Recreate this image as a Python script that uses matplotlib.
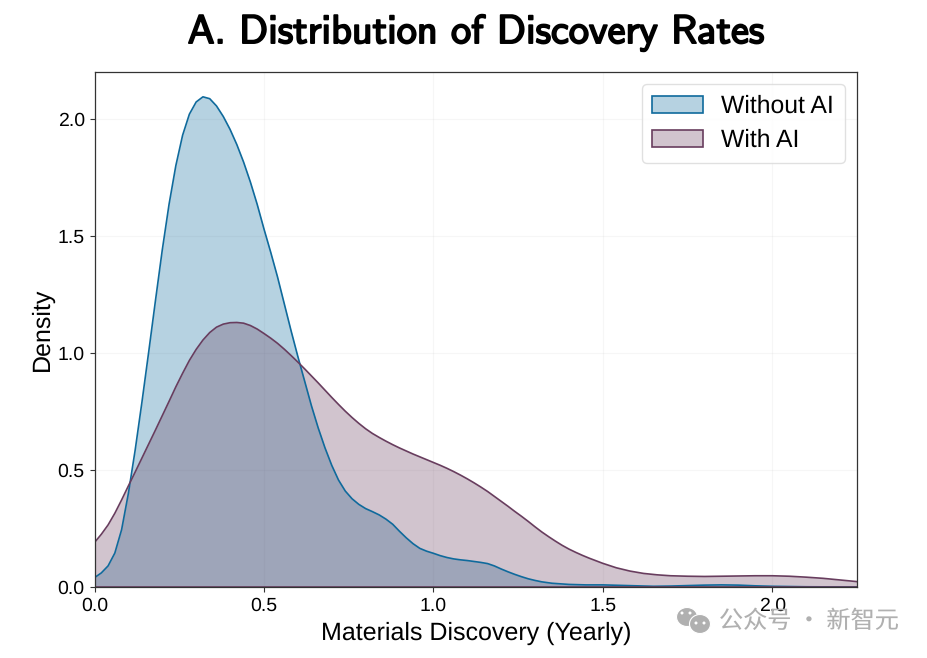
import matplotlib
matplotlib.use('Agg')
import matplotlib.pyplot as plt
import matplotlib.patheffects as pe
from matplotlib.patches import Ellipse
import numpy as np

plt.rcParams['font.family'] = ['Liberation Sans', 'DejaVu Sans']
plt.rcParams['text.hinting'] = 'none'

title = 'A. Distribution of Discovery Rates'
xlabel = 'Materials Discovery (Yearly)'
ylabel = 'Density'
labels = ['Without AI', 'With AI']
watermark = '公众号 · 新智元'
blue = '#0f6a9c'
purple = '#683d5e'

x_no_ai = [0.00, 0.02, 0.04, 0.06, 0.08, 0.10, 0.12, 0.14, 0.16, 0.18, 0.20, 0.22, 0.24, 0.26, 0.28, 0.30,
           0.32, 0.34, 0.36, 0.38, 0.40, 0.42, 0.44, 0.46, 0.48, 0.50, 0.52, 0.54, 0.56, 0.58, 0.60, 0.62,
           0.64, 0.66, 0.68, 0.70, 0.72, 0.74, 0.76, 0.78, 0.80, 0.82, 0.84, 0.86, 0.88, 0.90, 0.92, 0.94,
           0.96, 0.98, 1.00, 1.02, 1.04, 1.06, 1.08, 1.10, 1.12, 1.14, 1.16, 1.18, 1.20, 1.22, 1.24, 1.26,
           1.28, 1.30, 1.32, 1.35, 1.40, 1.45, 1.50, 1.55, 1.60, 1.65, 1.70, 1.75, 1.80, 1.85, 1.90, 1.95,
           2.00, 2.10, 2.25]
y_no_ai = [0.040, 0.060, 0.090, 0.145, 0.245, 0.400, 0.585, 0.790, 1.005, 1.225, 1.440, 1.635, 1.800, 1.930, 2.020, 2.072,
           2.094, 2.086, 2.055, 2.010, 1.955, 1.890, 1.815, 1.730, 1.635, 1.530, 1.430, 1.325, 1.210, 1.095, 0.985, 0.880,
           0.775, 0.680, 0.595, 0.520, 0.457, 0.410, 0.377, 0.353, 0.335, 0.322, 0.308, 0.290, 0.268, 0.238, 0.210, 0.185,
           0.165, 0.153, 0.144, 0.134, 0.126, 0.120, 0.116, 0.113, 0.109, 0.105, 0.100, 0.090, 0.077, 0.065, 0.054, 0.044,
           0.035, 0.028, 0.022, 0.016, 0.011, 0.009, 0.009, 0.007, 0.005, 0.003, 0.004, 0.006, 0.008, 0.009, 0.008, 0.005,
           0.003, 0.001, 0.000]
x_ai = [0.00, 0.02, 0.04, 0.06, 0.08, 0.10, 0.12, 0.14, 0.16, 0.18, 0.20, 0.22, 0.24, 0.26, 0.28, 0.30,
        0.32, 0.34, 0.36, 0.38, 0.40, 0.42, 0.44, 0.46, 0.48, 0.50, 0.52, 0.54, 0.56, 0.58, 0.60, 0.62,
        0.64, 0.66, 0.68, 0.70, 0.72, 0.74, 0.76, 0.78, 0.80, 0.82, 0.84, 0.86, 0.88, 0.90, 0.92, 0.94,
        0.96, 0.98, 1.00, 1.02, 1.04, 1.06, 1.08, 1.10, 1.12, 1.14, 1.16, 1.18, 1.20, 1.22, 1.24, 1.26,
        1.28, 1.30, 1.32, 1.34, 1.36, 1.38, 1.40, 1.42, 1.44, 1.46, 1.48, 1.50, 1.54, 1.58, 1.62, 1.66,
        1.70, 1.75, 1.80, 1.85, 1.90, 1.95, 2.00, 2.05, 2.10, 2.15, 2.20, 2.25]
y_ai = [0.190, 0.225, 0.265, 0.315, 0.372, 0.432, 0.491, 0.551, 0.611, 0.671, 0.732, 0.793, 0.855, 0.913, 0.968, 1.015,
        1.055, 1.087, 1.110, 1.123, 1.129, 1.130, 1.127, 1.117, 1.102, 1.083, 1.063, 1.041, 1.016, 0.989, 0.961, 0.932,
        0.902, 0.872, 0.841, 0.810, 0.780, 0.751, 0.724, 0.699, 0.676, 0.656, 0.639, 0.623, 0.608, 0.594, 0.581, 0.568,
        0.556, 0.544, 0.532, 0.520, 0.507, 0.493, 0.478, 0.462, 0.445, 0.427, 0.408, 0.387, 0.366, 0.345, 0.323, 0.302,
        0.280, 0.257, 0.235, 0.215, 0.196, 0.178, 0.162, 0.148, 0.135, 0.123, 0.112, 0.101, 0.082, 0.068, 0.058, 0.052,
        0.048, 0.046, 0.045, 0.046, 0.047, 0.048, 0.048, 0.046, 0.042, 0.037, 0.030, 0.023]

fig = plt.figure(figsize=(9.28, 6.58), dpi=100)
ax = fig.add_axes([94.5 / 928, 1 - 587 / 658, (857 - 94.5) / 928, (587 - 72) / 658])

ax.fill_between(x_no_ai, y_no_ai, color=blue, alpha=0.3, linewidth=0)
ax.plot(x_no_ai, y_no_ai, color=blue, lw=1.2)
ax.fill_between(x_ai, y_ai, color=purple, alpha=0.3, linewidth=0)
ax.plot(x_ai, y_ai, color=purple, lw=1.2)
ax.plot([0, 2.25], [0, 0], color=purple, lw=1.2)

handles = [plt.Rectangle((0, 0), 1, 1, facecolor=matplotlib.colors.to_rgba(c, 0.3), edgecolor=c, lw=1.2)
           for c in (blue, purple)]
ax.legend(handles, labels, loc='upper right', fontsize=17.8, frameon=True, framealpha=0.8, edgecolor='#d9d9d9',
          borderaxespad=0.5, labelspacing=0.45, handlelength=2.05, handletextpad=0.75, borderpad=0.42)

ax.set_xlim(0, 2.25)
ax.set_ylim(0, 2.2)
ax.set_xticks(np.arange(0, 2.5, 0.5))
ax.set_yticks(np.arange(0, 2.5, 0.5))
ax.tick_params(labelsize=14, length=3.5, width=0.8, color='#333333')
ax.grid(True, color='#888888', alpha=0.07, lw=0.8)
ax.set_axisbelow(True)
for s in ax.spines.values():
    s.set_color('#333333')
    s.set_linewidth(0.9)
ax.set_xlabel(xlabel, fontsize=18, labelpad=5)
ax.set_ylabel(ylabel, fontsize=18, labelpad=3)

fig.text(476 / 928, 1 - 33 / 658, title, fontsize=29, family='cmss10', ha='center', va='center',
         path_effects=[pe.withStroke(linewidth=1.3, foreground='black')])

# wechat icon next to the watermark
for cx, cy in [(687, 617), (700, 624)]:
    fig.add_artist(Ellipse((cx / 928, 1 - cy / 658), 21 / 928, 19 / 658, facecolor='#b0b0b0', edgecolor='white', lw=0.8,
                           transform=fig.transFigure))
for cx, cy in [(682, 613), (690, 613), (696, 623), (704, 623)]:
    fig.add_artist(Ellipse((cx / 928, 1 - cy / 658), 3 / 928, 3 / 658, facecolor='white', edgecolor='none',
                           transform=fig.transFigure))
fig.text(899 / 928, 1 - 621.5 / 658, watermark, fontsize=17.4, color='#b0b0b0', ha='right', va='center',
         family=['Noto Sans CJK SC', 'DejaVu Sans'])

fig.savefig('out.png', dpi=100)
